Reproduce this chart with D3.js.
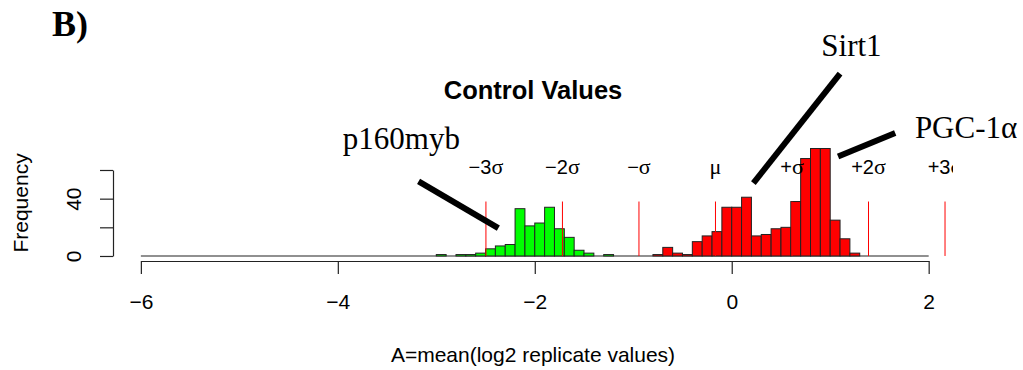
<!DOCTYPE html>
<html>
<head>
<meta charset="utf-8">
<script src="https://cdn.jsdelivr.net/npm/d3@7"></script>
<style>
  body { margin: 0; background: #fff; }
  svg { display: block; }
  text { font-family: "Liberation Sans", Arial, sans-serif; fill: #000; }
  .serif { font-family: "Liberation Serif", "Times New Roman", serif; }
</style>
</head>
<body>
<svg id="chart" width="1023" height="370"></svg>
<script>
var d3 = window.d3;

// histogram, bins of 0.1 on log2 scale
var BIN_WIDTH = 0.1;
var histRange = [-6, 2];
var greenStart = -3.0;
var greenCounts = [1, 0, 1, 1, 2, 5, 7, 8, 33, 21, 23, 34, 19, 13, 4, 2, 0, 1];
var redStart = -0.8;
var redCounts = [1, 6, 2, 1, 10, 14, 17, 34, 34, 41, 14, 15, 19, 20, 38, 68, 75, 75, 25, 12, 2];

var xTicks = [-6, -4, -2, 0, 2];
var yTicks = [0, 20, 40, 60];
var yTickLabels = ['0', '', '40', ''];

// mean / sd markers
var mu = -0.165, sd = 0.777;
var sigmaSteps = [-3, -2, -1, 0, 1, 2, 3];
var sigmaLabels = [['\u22123', '\u03c3'], ['\u22122', '\u03c3'], ['\u2212', '\u03c3'], ['', '\u03bc'],
  ['+', '\u03c3'], ['+2', '\u03c3'], ['+3', '\u03c3']];
var sigmaLineTop = 38;
var sigmaLabelAt = 57;

// gene call-outs, in data units (x, frequency)
var calloutNames = ['p160myb', 'Sirt1', 'PGC-1\u03b1'];
var calloutText = [[-2.76, 74.5], [0.91, 139.5], [1.86, 82.5]];
var calloutAnchor = ['end', 'start', 'start'];
var calloutLines = [
  [[-3.18, 52], [-2.37, 19.4]],
  [[1.10, 127.3], [0.22, 50.8]],
  [[1.66, 85.8], [1.08, 69.4]]
];

function bins(start, counts) {
  return counts.map(function(c, i) {
    return { x0: +(start + i * BIN_WIDTH).toFixed(2), n: c };
  });
}
var greenBins = bins(greenStart, greenCounts);
var redBins = bins(redStart, redCounts);

var svg = d3.select('#chart');

// plot region: left 113, right 953
var x = d3.scaleLinear().domain([-6.283, 2.247]).range([113, 953]);
var y = d3.scaleLinear().domain([-3.5, 78]).range([261, 144.2]);

svg.append('defs').append('clipPath')
  .attr('id', 'plotClip')
  .append('rect')
  .attr('x', x.range()[0]).attr('y', 0)
  .attr('width', x.range()[1] - x.range()[0]).attr('height', 370);

// zero-height bins show up as a line
svg.append('line')
  .attr('x1', x(histRange[0])).attr('x2', x(histRange[1]))
  .attr('y1', y(0)).attr('y2', y(0))
  .attr('stroke', '#222').attr('stroke-width', 1.2);

function drawBars(data, fill) {
  svg.append('g')
    .selectAll('rect')
    .data(data.filter(function(d) { return d.n > 0; }))
    .enter().append('rect')
    .attr('x', function(d) { return x(d.x0); })
    .attr('width', function(d) { return x(d.x0 + BIN_WIDTH) - x(d.x0); })
    .attr('y', function(d) { return y(d.n); })
    .attr('height', function(d) { return y(0) - y(d.n); })
    .attr('fill', fill)
    .attr('stroke', '#222')
    .attr('stroke-width', 1);
}
drawBars(greenBins, '#00ff00');
drawBars(redBins, '#ff0000');

// sigma lines and labels
var sig = svg.append('g').attr('clip-path', 'url(#plotClip)');
sig.selectAll('line')
  .data(sigmaSteps)
  .enter().append('line')
  .attr('x1', function(d) { return x(mu + d * sd); })
  .attr('x2', function(d) { return x(mu + d * sd); })
  .attr('y1', y(0)).attr('y2', y(sigmaLineTop))
  .attr('stroke', '#ff0000').attr('stroke-width', 1);

var sl = sig.selectAll('text')
  .data(sigmaSteps)
  .enter().append('text')
  .attr('x', function(d) { return x(mu + d * sd); })
  .attr('y', y(sigmaLabelAt))
  .attr('text-anchor', 'middle')
  .style('font-size', '20px');
sl.append('tspan').text(function(d, i) { return sigmaLabels[i][0]; });
sl.append('tspan').attr('class', 'serif').style('font-size', '22px')
  .text(function(d, i) { return sigmaLabels[i][1]; });

// x axis
var xAxis = svg.append('g')
  .attr('transform', 'translate(0,261)')
  .call(d3.axisBottom(x.copy().domain([xTicks[0], xTicks[xTicks.length - 1]])
      .range([x(xTicks[0]), x(xTicks[xTicks.length - 1])]))
    .tickValues(xTicks).tickSize(13).tickSizeOuter(0));
xAxis.selectAll('path, line').attr('stroke', '#222').attr('stroke-width', 1.2);
xAxis.selectAll('text')
  .attr('y', 48).attr('dy', null)
  .style('font-family', '"Liberation Sans", Arial, sans-serif')
  .style('font-size', '21px').attr('fill', '#000');

// y axis
var yAxis = svg.append('g')
  .attr('transform', 'translate(113,0)')
  .call(d3.axisLeft(y.copy().domain([yTicks[0], yTicks[yTicks.length - 1]])
      .range([y(yTicks[0]), y(yTicks[yTicks.length - 1])]))
    .tickValues(yTicks).tickSize(13).tickSizeOuter(0)
    .tickFormat(function(d, i) { return yTickLabels[i]; }));
yAxis.selectAll('path, line').attr('stroke', '#222').attr('stroke-width', 1.2);
yAxis.selectAll('.tick text')
  .attr('x', null).attr('dy', null)
  .attr('text-anchor', 'middle')
  .attr('transform', 'translate(-32,0) rotate(-90)')
  .style('font-family', '"Liberation Sans", Arial, sans-serif')
  .style('font-size', '21px').attr('fill', '#000');

// titles
svg.append('text')
  .attr('x', (x.range()[0] + x.range()[1]) / 2).attr('y', 99)
  .attr('text-anchor', 'middle')
  .style('font-size', '25.5px').style('font-weight', 'bold')
  .text('Control Values');

svg.append('text')
  .attr('x', (x.range()[0] + x.range()[1]) / 2).attr('y', 362)
  .attr('text-anchor', 'middle')
  .style('font-size', '21px')
  .text('A=mean(log2 replicate values)');

svg.append('text')
  .attr('transform', 'translate(28,' + y(37) + ') rotate(-90)')
  .attr('text-anchor', 'middle')
  .style('font-size', '21px')
  .text('Frequency');

svg.append('text')
  .attr('class', 'serif')
  .attr('x', 52).attr('y', 36)
  .style('font-size', '36px').style('font-weight', 'bold')
  .text('B)');

// call-outs
var line = d3.line()
  .x(function(d) { return x(d[0]); })
  .y(function(d) { return y(d[1]); });
svg.append('g')
  .selectAll('path')
  .data(calloutLines)
  .enter().append('path')
  .attr('d', line)
  .attr('stroke', '#000').attr('stroke-width', 6).attr('fill', 'none');

svg.append('g')
  .selectAll('text')
  .data(calloutNames)
  .enter().append('text')
  .attr('class', 'serif')
  .attr('x', function(d, i) { return x(calloutText[i][0]); })
  .attr('y', function(d, i) { return y(calloutText[i][1]); })
  .attr('text-anchor', function(d, i) { return calloutAnchor[i]; })
  .style('font-size', '31px')
  .text(function(d) { return d; });
</script>
</body>
</html>
